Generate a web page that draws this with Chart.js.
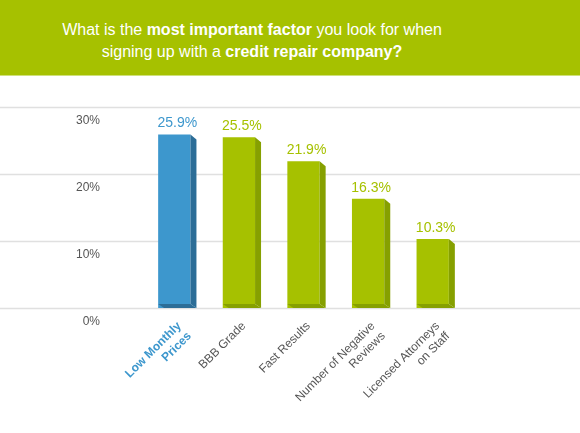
<!DOCTYPE html>
<html>
<head>
<meta charset="utf-8">
<script src="https://cdn.jsdelivr.net/npm/chart.js@4.4.0/dist/chart.umd.min.js"></script>
<style>
    html, body { margin: 0; padding: 0; background: #fff; }
    body { width: 580px; height: 433px; overflow: hidden; font-family: Helvetica, Arial, "Liberation Sans", sans-serif; }
    #banner {
        height: 76px;
        background: #a6c100;
        border-bottom: 1px solid #cfe07a;
        color: #fff;
        text-align: center;
        font-size: 16px;
        line-height: 22px;
        box-sizing: border-box;
        padding-top: 19px;
        padding-right: 76px;
    }
    #banner b { font-weight: bold; }
    #wrap { position: relative; width: 580px; height: 356px; }
</style>
</head>
<body>
<div id="banner">What is the <b>most important factor</b> you look for when<br>signing up with a <b>credit repair company?</b></div>
<div id="wrap"><canvas id="factorChart"></canvas></div>
<script>
const categories = [['Low Monthly', 'Prices'], 'BBB Grade', 'Fast Results', ['Number of Negative', 'Reviews'], ['Licensed Attorneys', 'on Staff']];
const values = [25.9, 25.5, 21.9, 16.3, 10.3];
const yTicks = [0, 10, 20, 30];
const highlighted = 0;

const blue = '#3d97cd';
const blueSide = '#2c6d97';
const green = '#a6c100';
const greenSide = '#86a000';

document.addEventListener("DOMContentLoaded", function () {
    // full width grid lines, like the original picture
    const gridPlugin = {
        id: 'fullGrid',
        beforeDatasetsDraw(chart) {
            const ctx = chart.ctx;
            const y = chart.scales.y;
            ctx.save();
            ctx.strokeStyle = '#e0e0e0';
            ctx.lineWidth = 1.5;
            yTicks.forEach(v => {
                const py = Math.round(y.getPixelForValue(v)) + 0.5;
                ctx.beginPath();
                ctx.moveTo(0, py);
                ctx.lineTo(chart.width, py);
                ctx.stroke();
            });
            ctx.restore();
        }
    };

    // side and bottom faces for the 3d look, plus value labels
    const barDecor = {
        id: 'barDecor',
        afterDatasetsDraw(chart) {
            const ctx = chart.ctx;
            const meta = chart.getDatasetMeta(0);
            ctx.save();
            meta.data.forEach((bar, i) => {
                const half = bar.width / 2;
                const l = bar.x - half, r = bar.x + half;
                const t = bar.y, b = bar.base;
                const side = i === highlighted ? blueSide : greenSide;
                ctx.fillStyle = side;
                ctx.beginPath();
                ctx.moveTo(r, t);
                ctx.lineTo(r + 6, t + 5);
                ctx.lineTo(r + 6, b);
                ctx.lineTo(r, b - 4);
                ctx.closePath();
                ctx.fill();
                ctx.beginPath();
                ctx.moveTo(l, b - 4);
                ctx.lineTo(r, b - 4);
                ctx.lineTo(r + 6, b);
                ctx.lineTo(l + 6, b);
                ctx.closePath();
                ctx.fill();

                ctx.fillStyle = i === highlighted ? blue : green;
                ctx.font = '14px Helvetica, Arial, "Liberation Sans", sans-serif';
                ctx.textAlign = 'center';
                ctx.textBaseline = 'alphabetic';
                ctx.fillText(values[i].toFixed(1) + '%', bar.x + 3, t - 7);
            });
            ctx.restore();
        }
    };

    const ctx = document.getElementById('factorChart');
    new Chart(ctx, {
        type: 'bar',
        data: {
            labels: categories,
            datasets: [{
                data: values,
                backgroundColor: values.map((v, i) => i === highlighted ? blue : green),
                borderWidth: 0,
                barPercentage: 0.5,
                categoryPercentage: 1
            }]
        },
        options: {
            responsive: true,
            maintainAspectRatio: false,
            animation: false,
            layout: { padding: { top: 31, right: 115, left: 0, bottom: 0 } },
            plugins: {
                legend: { display: false },
                tooltip: { enabled: false }
            },
            scales: {
                y: {
                    min: 0,
                    max: 30,
                    afterBuildTicks: s => { s.ticks = yTicks.map(v => ({ value: v })); },
                    afterFit: s => {
                        s.width = 142;
                        // the big label gap should not eat the top of the plot
                        s.paddingTop = 0;
                        s.paddingBottom = 0;
                    },
                    border: { display: false },
                    grid: { display: false, drawTicks: false },
                    ticks: {
                        padding: 42,
                        labelOffset: 14,
                        color: '#555',
                        font: { size: 12, family: 'Helvetica, Arial, "Liberation Sans", sans-serif' },
                        callback: v => v + '%'
                    }
                },
                x: {
                    afterFit: s => { s.height = 124; },
                    border: { display: false },
                    grid: { display: false, drawTicks: false },
                    ticks: {
                        minRotation: 45,
                        maxRotation: 45,
                        padding: 11,
                        labelOffset: 5,
                        color: c => c.index === highlighted ? blue : '#555',
                        font: c => ({
                            size: 12,
                            weight: c.index === highlighted ? 'bold' : 'normal',
                            family: 'Helvetica, Arial, "Liberation Sans", sans-serif'
                        })
                    }
                }
            }
        },
        plugins: [gridPlugin, barDecor]
    });
});
</script>
</body>
</html>
